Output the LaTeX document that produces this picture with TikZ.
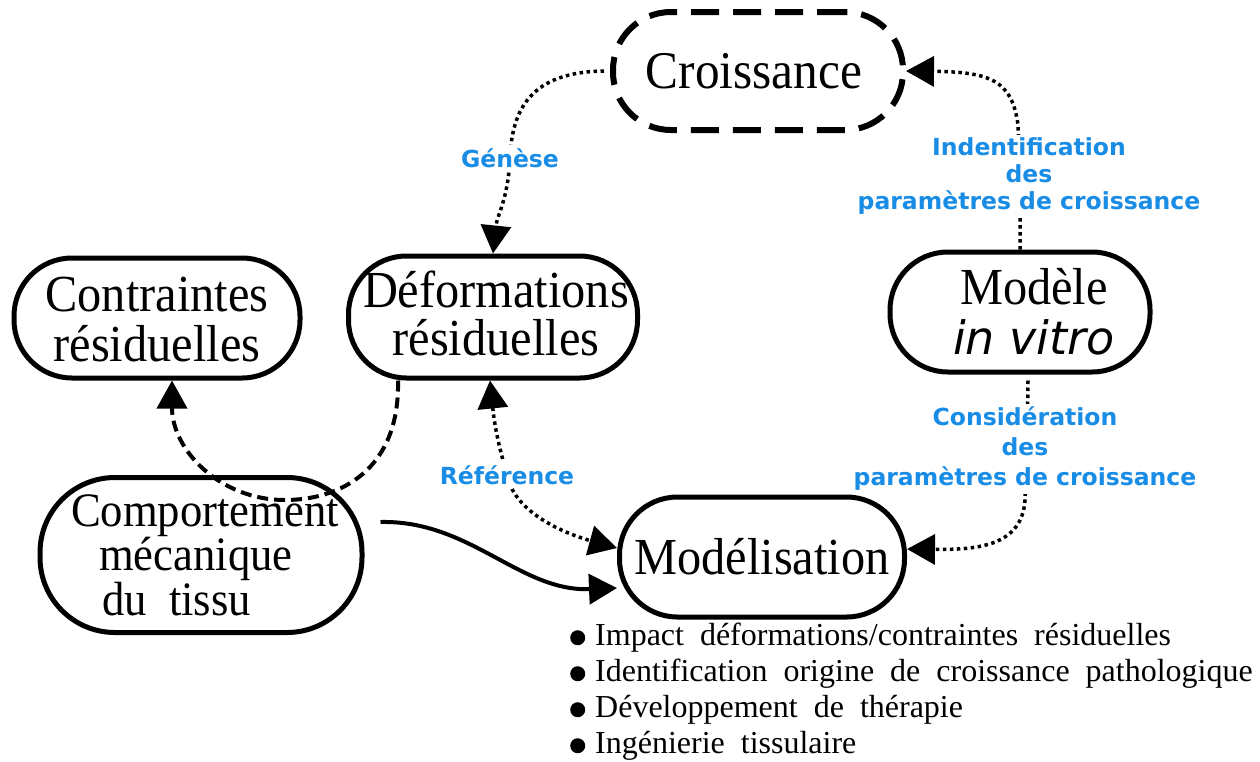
\documentclass[tikz,border=0pt]{standalone}
\usepackage{fontspec}
\setmainfont{Liberation Serif}[FakeStretch=0.93]
\newfontfamily\listfont{Liberation Serif}
\newfontfamily\labfont{DejaVu Sans}
\newfontfamily\sansit{DejaVu Sans}
\usetikzlibrary{arrows.meta}
\definecolor{labelblue}{RGB}{25,140,229}
\newcommand\mybul{\makebox[25pt][l]{\tikz[baseline=-8pt]\fill (0,0) circle (7.5pt);}}
\begin{document}
\begin{tikzpicture}[x=1pt,y=-1pt,
  box/.style={draw, line width=5pt, rounded corners=58pt, inner sep=0pt},
  boxtext/.style={align=center, inner sep=0pt, font=\fontsize{52}{50}\selectfont},
  lab/.style={text=labelblue, fill=white, align=center, inner sep=3pt,
    font=\labfont\bfseries\fontsize{23.5}{27}\selectfont},
  dotline/.style={line width=3.5pt, dash pattern=on 3.5pt off 3.5pt},
  dashline/.style={line width=4pt, dash pattern=on 11pt off 6pt},
  bigtip/.tip={Triangle[length=28pt,width=30pt]}
]
\useasboundingbox (0,0) rectangle (1260,761);

% boxes
\node[box, line width=6pt, dash pattern=on 28pt off 14pt, minimum width=290pt, minimum height=118pt]
  (cro) at (758,71) {};
\node[box, minimum width=286pt, minimum height=120pt] (con) at (157,318) {};
\node[box, minimum width=289pt, minimum height=122pt] (def) at (493,317) {};
\node[box, minimum width=260pt, minimum height=120pt] (mod) at (1020,312) {};
\node[box, rounded corners=75pt, minimum width=322pt, minimum height=155pt] (comp) at (201,555) {};
\node[box, minimum width=285pt, minimum height=120pt] (mdl) at (762,557) {};

% texts
\node[boxtext, font=\fontsize{53}{50}\selectfont] (crotxt) at ([xshift=-4pt]cro.center) {Croissance};
\node[boxtext] (context) at ([yshift=-2pt]con.center) {Contraintes\\résiduelles};
\node[boxtext, font=\fontsize{52}{48}\selectfont] (deftxt) at ([xshift=3pt,yshift=4pt]def.center) {Déformations\\résiduelles};
\node[boxtext] (modtxt) at ([xshift=14pt]mod.center)
  {Modèle\\{\sansit\itshape\fontsize{46}{50}\selectfont in vitro}};
\node[boxtext, align=left, font=\fontsize{48}{38}\selectfont] (comptxt) at ([xshift=4pt]comp.center)
  {Comportement\\\hspace*{28pt}mécanique\\\hspace*{31pt}du\ \ tissu};
\node[boxtext] (mdltxt) at (mdl.center) {Modélisation};

\node[anchor=north west, align=left, inner sep=0pt, font=\listfont\fontsize{32}{36}\selectfont] (list) at (570,623)
  {\mybul Impact\ \ déformations/contraintes\ \ résiduelles\\
   \mybul Identification\ \ origine\ \ de\ \ croissance\ \ pathologique\\
   \mybul Développement\ \ de\ \ thérapie\\
   \mybul Ingénierie\ \ tissulaire};

% connectors
\draw[dotline, -bigtip] ([xshift=-6pt]cro.west) .. controls (530,72) and (512,110) .. (510,158)
  node[lab] (gen) {Génèse} .. controls (508,200) and (497,215) .. (def.north);

\draw[dotline, -bigtip] (mod.north) -- (1020,176)
  node[lab, xshift=9pt] (ident) {Indentification\\des\\paramètres de croissance}
  -- (1018,125) .. controls (1012,80) and (990,72) .. (cro.east);

\draw[dotline, -bigtip] ([xshift=8pt,yshift=-6pt]mod.south) -- (1027,449)
  node[lab, font=\labfont\bfseries\fontsize{23.5}{30}\selectfont, xshift=-2pt] (consid) {Considération\\des\\paramètres de croissance}
  -- (1025,500) .. controls (1022,545) and (980,550) .. ([yshift=8pt]mdl.east);

\draw[dashline, -bigtip] ([xshift=-95pt]def.south) .. controls (400,470) and (340,500) .. (285,500)
  .. controls (220,500) and (172,450) .. ([xshift=15pt]con.south);

\draw[dotline, bigtip-bigtip] ([xshift=-3pt]def.south) .. controls (495,430) and (500,450) .. (507,475)
  node[lab] (ref) {Référence} .. controls (515,515) and (570,535) .. ([yshift=9pt]mdl.west);

\draw[line width=4pt, -bigtip] ([xshift=16pt,yshift=33pt]comp.east) .. controls (470,520) and (520,592) .. ([yshift=-31pt]mdl.west);
\end{tikzpicture}
\end{document}
